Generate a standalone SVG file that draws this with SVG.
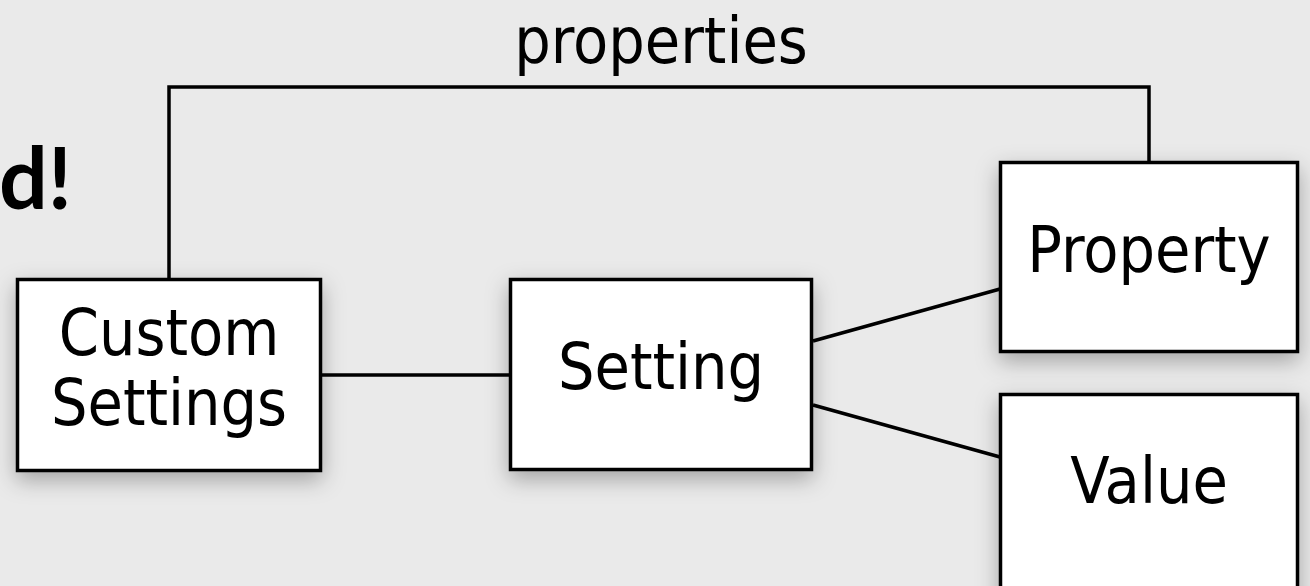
<svg xmlns="http://www.w3.org/2000/svg" width="1310" height="586" viewBox="0 0 1310 586">
<style>
.box{fill:#fff;stroke:#000;stroke-width:3.5;filter:url(#sh)}
.lbl{font-family:"DejaVu Sans Condensed","DejaVu Sans",sans-serif;font-stretch:condensed;font-size:64px;fill:#000;text-anchor:middle}
.con{fill:none;stroke:#000;stroke-width:3.5}
</style>
<defs>
<filter id="sh" x="-25%" y="-25%" width="150%" height="160%">
<feDropShadow dx="0" dy="8" stdDeviation="11" flood-color="#000" flood-opacity="0.3"/>
</filter>
</defs>
<rect width="1310" height="586" fill="#eaeaea"/>
<text x="72" y="209" font-family="Lato,'Open Sans',sans-serif" font-weight="bold" font-size="86" text-anchor="end" fill="#000">d!</text>
<g id="connectors">
<polyline class="con" points="169,279 169,87 1149,87 1149,162"/>
<line class="con" x1="322" y1="375" x2="510" y2="375"/>
<line class="con" x1="813" y1="341" x2="1000" y2="289"/>
<line class="con" x1="813" y1="405" x2="1000" y2="457"/>
<text class="lbl" x="661" y="63">properties</text>
</g>
<g id="custom-settings">
<rect class="box" x="17.5" y="279.5" width="303" height="191"/>
<text class="lbl" x="169" y="355">Custom</text>
<text class="lbl" x="169" y="425">Settings</text>
</g>
<g id="setting">
<rect class="box" x="510.5" y="279.5" width="301" height="190"/>
<text class="lbl" x="661" y="389">Setting</text>
</g>
<g id="property">
<rect class="box" x="1000.5" y="162.5" width="297" height="189"/>
<text class="lbl" x="1149" y="272">Property</text>
</g>
<g id="value">
<rect class="box" x="1000.5" y="394.5" width="297" height="250"/>
<text class="lbl" x="1149" y="503">Value</text>
</g>
</svg>
